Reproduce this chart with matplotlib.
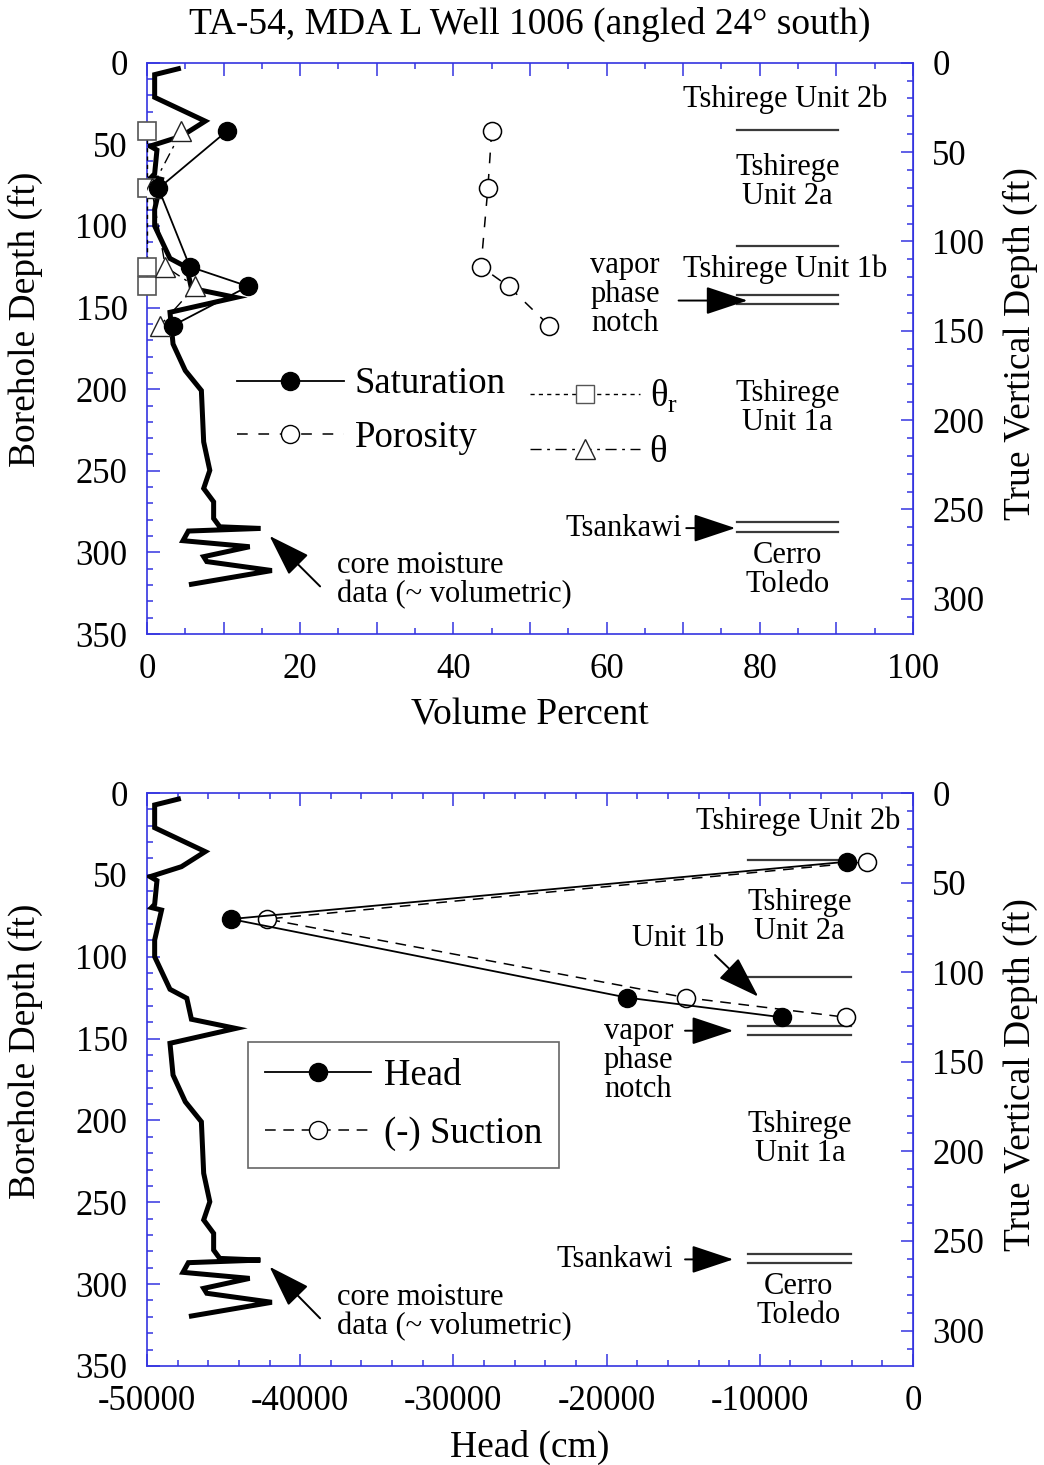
import matplotlib
matplotlib.use("Agg")
import matplotlib.pyplot as plt
from matplotlib.lines import Line2D
from matplotlib.ticker import MultipleLocator, FixedLocator, FuncFormatter
import numpy as np

plt.rcParams['font.family'] = ['Liberation Serif', 'DejaVu Serif']
plt.rcParams['mathtext.fontset'] = 'custom'
plt.rcParams['mathtext.rm'] = 'Liberation Serif'
plt.rcParams['axes.unicode_minus'] = False

COS24 = np.cos(np.radians(24))
BLUE = '#3434e0'
GREY = '#3a3a3a'

# core moisture log (~volumetric %) vs borehole depth (ft)
core_vol = [4.1, 1.0, 1.0, 7.6, 4.5, 0.4, 1.3, 1.0, 0.6, 1.9, 1.0, 1.0, 3.0, 5.2,
            5.8, 11.6, 3.0, 3.4, 5.0, 7.1, 7.4, 8.2, 7.4, 8.7, 8.7, 9.5, 14.8,
            5.4, 4.7, 13.4, 7.4, 7.8, 16.3, 5.8]
core_depth = [3.7, 7.3, 21.2, 35.8, 45.0, 51.1, 53.5, 68.0, 70.0, 71.5, 89.8, 100.0,
              119.9, 125.4, 138.2, 143.8, 152.9, 172.3, 188.6, 200.8, 232.3, 249.7,
              260.8, 269.0, 279.2, 284.3, 285.3, 286.9, 292.8, 296.5, 302.6, 305.6,
              311.1, 319.5]

# core samples
sample_depth = [42, 77, 125, 137, 161]
saturation = [10.4, 1.5, 5.6, 13.2, 3.4]
porosity = [45.0, 44.5, 43.6, 47.2, 52.5]
theta = [4.5, 0.6, 2.4, 6.3, 1.7]
theta_r_depth = [42, 77, 125, 137]
theta_r = [0, 0, 0, 0]

# head / suction (cm)
head_depth = [42, 77, 125, 137]
head = [-4330, -44520, -18650, -8570]
suction = [-3020, -42170, -14820, -4370]

# unit contacts (borehole depth, ft)
contact_depth = [41.2, 112.3, 142.2, 147.7, 281.6, 287.2]

# true vertical depth ticks (ft)
tvd_major = [0, 50, 100, 150, 200, 250, 300]
tvd_minor = list(range(0, 320, 10))


def style_axes(ax, xmajor, xminor, xlabel_every, ylim=350):
    ax.set_ylim(ylim, 0)
    for sp in ax.spines.values():
        sp.set_color(BLUE)
        sp.set_linewidth(1.2)
    ax.xaxis.set_major_locator(MultipleLocator(xmajor))
    ax.xaxis.set_minor_locator(MultipleLocator(xminor))
    ax.xaxis.set_major_formatter(FuncFormatter(
        lambda v, p: '%d' % round(v) if abs(v / xlabel_every - round(v / xlabel_every)) < 1e-6 else ''))
    ax.yaxis.set_major_locator(MultipleLocator(50))
    ax.yaxis.set_minor_locator(MultipleLocator(10))
    ax.tick_params(which='both', direction='in', color=BLUE, width=1.1,
                   top=True, right=False, labelsize=25, pad=14)
    ax.tick_params(which='major', length=9)
    ax.tick_params(which='minor', length=4.5)
    ax.set_ylabel('Borehole Depth (ft)', fontsize=27)
    ax.yaxis.set_label_coords(-0.136, 0.55)

    sec = ax.secondary_yaxis('right', functions=(lambda d: d * COS24, lambda t: t / COS24))
    sec.yaxis.set_major_locator(FixedLocator(tvd_major))
    sec.yaxis.set_minor_locator(FixedLocator(tvd_minor))
    sec.tick_params(which='both', direction='in', color=BLUE, width=1.1, labelsize=25, pad=14)
    sec.tick_params(which='major', length=9)
    sec.tick_params(which='minor', length=4.5)
    sec.spines['right'].set_color(BLUE)
    sec.set_ylabel('True Vertical Depth (ft)', fontsize=27)
    sec.yaxis.set_label_coords(1.117, 0.508, transform=ax.transAxes)
    return sec


fig = plt.figure(figsize=(10.44, 14.65), dpi=100)
fig.text(0.5077, 0.983, 'TA-54, MDA L Well 1006 (angled 24\u00b0 south)',
         ha='center', va='center', fontsize=27)

# ---------------- top panel: volume percent ----------------
ax1 = fig.add_axes([0.1408, 0.5672, 0.7337, 0.39])
ax1.set_xlim(0, 100)
style_axes(ax1, 10, 5, 20)
ax1.set_xlabel('Volume Percent', fontsize=27, labelpad=8)

ax1.plot(core_vol, core_depth, color='black', lw=3.6, zorder=2, solid_joinstyle='miter')
ax1.plot(theta_r, theta_r_depth, ls=(0, (3, 3)), color='black', lw=1,
         marker='s', ms=13, mfc='white', mec='#555555', mew=1.2, zorder=3, clip_on=False)
ax1.plot(theta, sample_depth, ls=(0, (8, 4, 2, 4)), color='black', lw=1,
         marker='^', ms=14, mfc='white', mec='#222222', mew=1, zorder=4)
ax1.plot(saturation, sample_depth, ls='-', color='black', lw=1.3,
         marker='o', ms=13, mfc='black', mec='black', zorder=5)
ax1.plot(porosity, sample_depth, ls=(0, (7, 7)), color='black', lw=1.1,
         marker='o', ms=13, mfc='white', mec='black', mew=1.1, zorder=5)

for d in contact_depth:
    ax1.plot([77.0, 90.2], [d, d], color=GREY, lw=1.6)

txt = dict(fontsize=22, ha='center', va='center', linespacing=1.0)
ax1.text(83.3, 22.2, 'Tshirege Unit 2b', **txt)
ax1.text(83.6, 73.2, 'Tshirege\nUnit 2a', **txt)
ax1.text(83.3, 126.3, 'Tshirege Unit 1b', **txt)
ax1.text(83.6, 211.7, 'Tshirege\nUnit 1a', **txt)
ax1.text(83.6, 311.0, 'Cerro\nToledo', **txt)
ax1.text(62.4, 142.2, 'vapor\nphase\nnotch', **txt)
arrow = dict(arrowstyle='-|>,head_length=1.2,head_width=0.4', color='black', lw=1.4,
             mutation_scale=22, shrinkA=0, shrinkB=0)
ax1.annotate('', xy=(78.4, 145.7), xytext=(69.4, 145.7), arrowprops=arrow)
ax1.text(69.8, 285.1, 'Tsankawi', fontsize=22, ha='right', va='center')
ax1.annotate('', xy=(76.8, 285.1), xytext=(70.4, 285.1), arrowprops=arrow)
ax1.text(24.8, 317.0, 'core moisture\ndata (~ volumetric)', fontsize=22, ha='left',
         va='center', linespacing=1.0)
ax1.annotate('', xy=(16.0, 289.9), xytext=(22.6, 320.8), arrowprops=arrow)

h_sat = Line2D([], [], color='black', lw=1.3, marker='o', ms=13, mfc='black')
h_por = Line2D([], [], color='black', lw=1.1, ls=(0, (7, 7)), marker='o', ms=13, mfc='white')
leg1 = ax1.legend([h_sat, h_por], ['Saturation', 'Porosity'], loc='upper left',
                  bbox_to_anchor=(0.1175, 0.4675), frameon=False, fontsize=26.5,
                  handlelength=2.9, handletextpad=0.3, labelspacing=0.52,
                  borderpad=0, borderaxespad=0)
ax1.add_artist(leg1)
h_tr = Line2D([], [], color='black', lw=1, ls=(0, (3, 3)), marker='s', ms=13,
              mfc='white', mec='#555555')
h_th = Line2D([], [], color='black', lw=1, ls=(0, (8, 4, 2, 4)), marker='^', ms=14,
              mfc='white', mec='#222222')
ax1.legend([h_tr, h_th], ['\u03b8$_\\mathregular{r}$', '\u03b8'], loc='upper left',
           bbox_to_anchor=(0.5, 0.449), frameon=False, fontsize=26.5,
           handlelength=3.0, handletextpad=0.25, labelspacing=0.56,
           borderpad=0, borderaxespad=0)

# ---------------- bottom panel: head ----------------
ax2 = fig.add_axes([0.1408, 0.0676, 0.7337, 0.3911])
ax2.set_xlim(-50000, 0)
style_axes(ax2, 10000, 2000, 10000)
ax2.set_xlabel('Head (cm)', fontsize=27, labelpad=8)

ax2.plot(head, head_depth, ls='-', color='black', lw=1.3,
         marker='o', ms=13, mfc='black', mec='black', zorder=5)
ax2.plot(suction, head_depth, ls=(0, (7, 5)), color='black', lw=1.1,
         marker='o', ms=13, mfc='white', mec='black', mew=1.1, zorder=4)

for d in contact_depth:
    ax2.plot([-10750, -4070], [d, d], color=GREY, lw=1.6, zorder=3)

ax2.text(-7490, 17.5, 'Tshirege Unit 2b', **txt)
ax2.text(-7420, 75.5, 'Tshirege\nUnit 2a', **txt)
ax2.text(-15320, 88.8, 'Unit 1b', **txt)
ax2.annotate('', xy=(-10100, 124.4), xytext=(-12920, 99.0), arrowprops=arrow)
ax2.text(-17930, 163.1, 'vapor\nphase\nnotch', **txt)
ax2.annotate('', xy=(-11730, 145.2), xytext=(-14880, 145.2), arrowprops=arrow)
ax2.text(-7380, 211.4, 'Tshirege\nUnit 1a', **txt)
ax2.text(-15670, 284.9, 'Tsankawi', fontsize=22, ha='right', va='center')
ax2.annotate('', xy=(-11730, 284.9), xytext=(-14880, 284.9), arrowprops=arrow)
ax2.text(-7490, 310.2, 'Cerro\nToledo', **txt)

h_head = Line2D([], [], color='black', lw=1.3, marker='o', ms=13, mfc='black')
h_suc = Line2D([], [], color='black', lw=1.1, ls=(0, (7, 5)), marker='o', ms=13, mfc='white')
leg2 = ax2.legend([h_head, h_suc], ['Head', '(-) Suction'], loc='upper left',
                  bbox_to_anchor=(0.1319, 0.5654), frameon=True, fancybox=False,
                  edgecolor='#666666', framealpha=1, fontsize=26.5,
                  handlelength=2.9, handletextpad=0.35, labelspacing=0.64,
                  borderpad=0.45, borderaxespad=0)
leg2.get_frame().set_linewidth(1.2)

# core moisture log drawn on a hidden 0-100 % scale over the head panel
axv = fig.add_axes(ax2.get_position(), sharey=ax2)
axv.set_xlim(0, 100)
axv.axis('off')
axv.patch.set_visible(False)
axv.plot(core_vol, core_depth, color='black', lw=3.6, solid_joinstyle='miter')
axv.text(24.8, 317.0, 'core moisture\ndata (~ volumetric)', fontsize=22, ha='left',
         va='center', linespacing=1.0)
axv.annotate('', xy=(16.0, 289.4), xytext=(22.6, 320.9), arrowprops=arrow)

fig.savefig('out.png', dpi=100)
